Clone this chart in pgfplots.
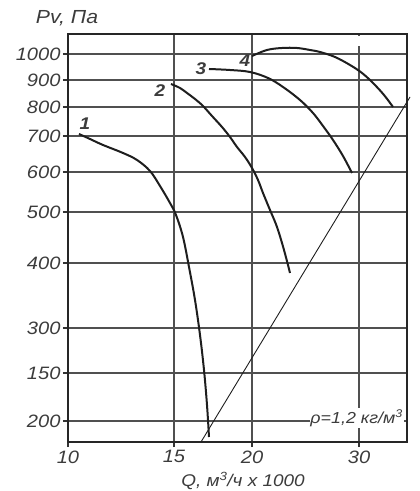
\documentclass[border=0pt]{standalone}
\usepackage{pgfplots}
\pgfplotsset{compat=1.18}
\usepackage{fontspec}
\setmainfont{Liberation Sans}[FakeStretch=1.12]
\definecolor{txt}{HTML}{3C3C3C}
\definecolor{grd}{HTML}{505050}
\definecolor{crv}{HTML}{1E1E1E}
\begin{document}
\begin{tikzpicture}[x=1bp,y=1bp]
\path[use as bounding box] (-68bp,-49bp) rectangle (352bp,442bp);
\begin{axis}[
  scale only axis, width=339bp, height=408bp,
  xmin=68, xmax=407, ymin=-442, ymax=-34,
  clip=false,
  axis line style={line width=2.4bp, black!85},
  xtick={68,174,252,359}, xticklabels={10,15,20,30},
  ytick={-54,-80,-107,-136,-172,-212,-263,-328,-373,-421},
  yticklabels={1000,900,800,700,600,500,400,300,150,200},
  xtick pos=bottom, ytick pos=left,
  tick align=outside, major tick length=5bp,
  tick style={line width=1.5bp, black!80},
  grid=major, grid style={line width=1.2bp, grd},
  ticklabel style={font=\fontsize{18}{20}\selectfont\itshape, text=txt},
  yticklabel style={xshift=1bp},
  /pgf/number format/assume math mode=true,
]
\fill[white] (axis cs:356,-36) rectangle (axis cs:362,-46);
\node[fill=white, inner sep=1pt, anchor=east, text=txt, font=\fontsize{16}{18}\selectfont\itshape] at (axis cs:404,-418) {ρ=1,2 кг/м\textsuperscript{3}};
% diagonal
\addplot[line width=0.9bp, crv] coordinates {(201,-442) (410,-97)};
% curve 1
\addplot[line width=2bp, crv, smooth, tension=0.6] coordinates {
(79,-134) (90,-139) (103,-145) (123,-153) (137,-160) (150,-171) (160,-186) (170,-203) (176,-215) (183,-237) (189,-267) (195,-300) (200,-335) (204,-370) (207,-405) (209,-437)};
% curve 2
\addplot[line width=2bp, crv, smooth, tension=0.6] coordinates {
(171,-84) (180,-88) (187,-93) (195,-99) (203,-106) (212,-116) (222,-127) (230,-137) (237,-147) (245,-157) (252,-168) (258,-180) (263,-193) (270,-210) (277,-227) (284,-250) (290,-273)};
% curve 3
\addplot[line width=2bp, crv, smooth, tension=0.6] coordinates {
(209,-69) (230,-70) (250,-72) (268,-78) (283,-87) (300,-100) (313,-113) (323,-126) (333,-140) (343,-156) (352,-173)};
% curve 4
\addplot[line width=2bp, crv, smooth, tension=0.6] coordinates {
(252,-56) (267,-50) (282,-48) (297,-48) (310,-50) (320,-52) (335,-57) (350,-65) (362,-73) (373,-83) (384,-95) (393,-107)};
\node[text=txt, font=\fontsize{17}{19}\selectfont\bfseries\itshape] at (axis cs:85,-124) {1};
\node[text=txt, font=\fontsize{17}{19}\selectfont\bfseries\itshape] at (axis cs:160,-91) {2};
\node[text=txt, font=\fontsize{17}{19}\selectfont\bfseries\itshape] at (axis cs:201,-69) {3};
\node[text=txt, font=\fontsize{17}{19}\selectfont\bfseries\itshape] at (axis cs:245,-61) {4};
\node[text=txt, font=\fontsize{19}{21}\selectfont\itshape] at (axis cs:67,-18) {Pv, Па};
\node[text=txt, font=\fontsize{17}{19}\selectfont\itshape] at (axis cs:243,-481) {Q, м\textsuperscript{3}/ч x 1000};
\end{axis}
\end{tikzpicture}
\end{document}
